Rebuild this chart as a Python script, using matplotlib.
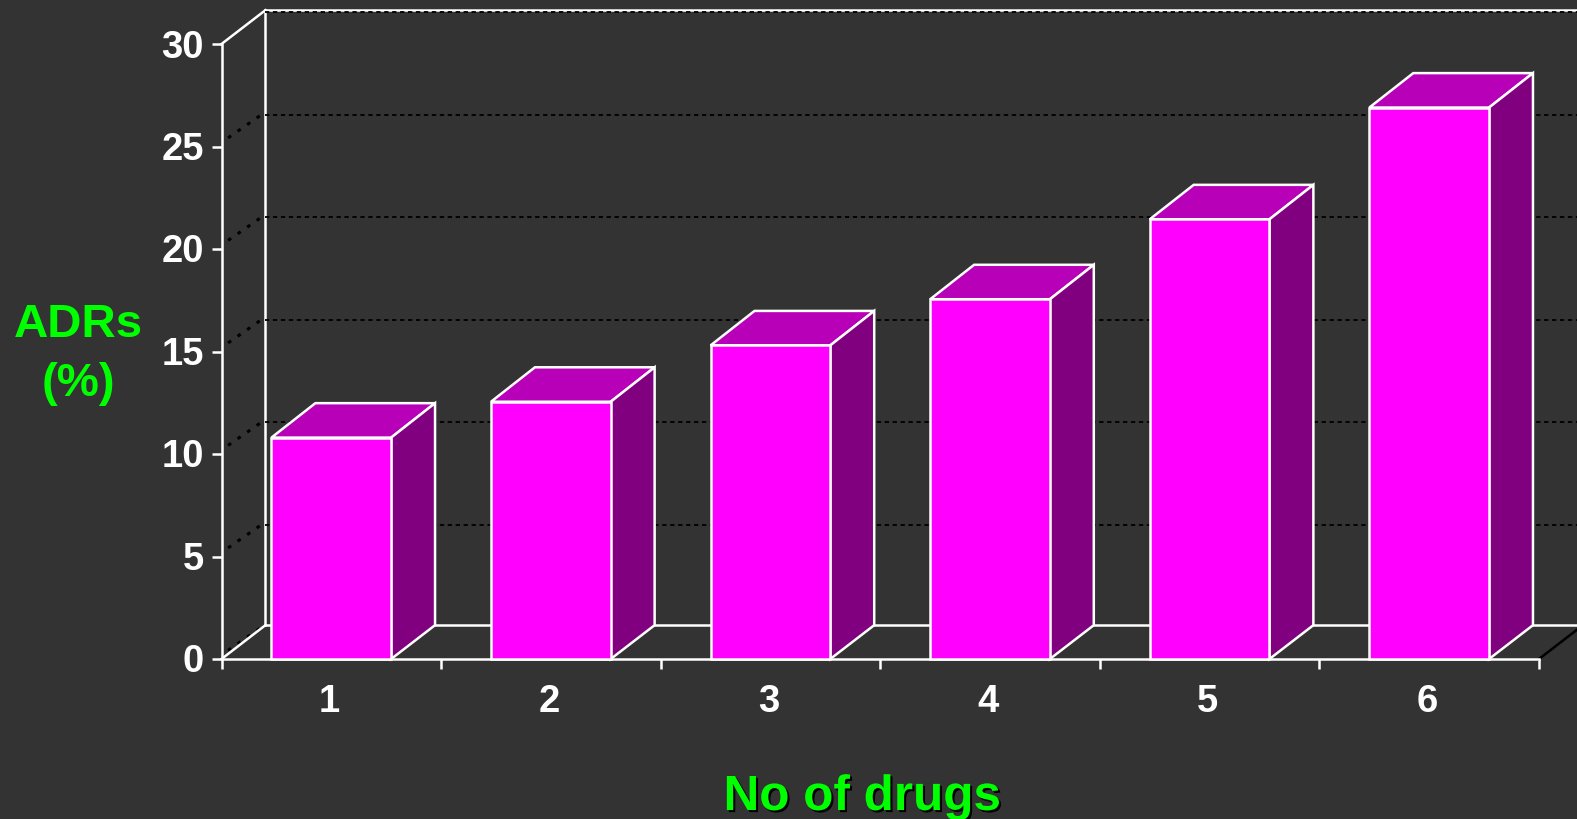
import matplotlib.pyplot as plt
import matplotlib.patheffects as pe
from matplotlib.patches import Polygon
from matplotlib.transforms import ScaledTranslation

drug_counts = [1, 2, 3, 4, 5, 6]
adr_percent = [10.8, 12.55, 15.3, 17.55, 21.45, 26.9]
y_ticks = [0, 5, 10, 15, 20, 25, 30]
x_edges = [0.5, 1.5, 2.5, 3.5, 4.5, 5.5, 6.5]

BG = '#333333'
FRONT = '#ff00ff'
TOP = '#b800b8'
SIDE = '#800080'
GREEN = '#00ff00'
WHITE = '#ffffff'
LW = 1.8

# depth of the fake 3d box, in data units
DX = 0.2
DY = 1.68
BOX_DY = 1.65
GRID_DY = 1.56
BAR_W = 0.545

W, H = 1577, 820

plt.rcParams['font.family'] = ['Liberation Sans', 'DejaVu Sans']
plt.rcParams['font.weight'] = 'bold'

fig = plt.figure(figsize=(W / 100, H / 100), dpi=100, facecolor=BG)
ax = fig.add_axes([221.5 / W, (H - 660) / H, (1539 - 221.5) / W, (660 - 45) / H])
ax.set_facecolor('none')
ax.set_xlim(x_edges[0], x_edges[-1])
ax.set_ylim(y_ticks[0], y_ticks[-1])

x0, x1 = x_edges[0], x_edges[-1]
y0, y1 = y_ticks[0], y_ticks[-1]

# dashed grid on back wall and dotted run along the side wall
for level in y_ticks:
    if level != y0:
        ax.plot([x0 + DX, x1 + DX], [level + GRID_DY] * 2, color='black', lw=1.3,
                ls=(0, (2.4, 2.0)), clip_on=False, zorder=3)
    if level != y1:
        ax.plot([x0 + 0.15 * DX, x0 + 0.95 * DX], [level + 0.25 * DY, level + GRID_DY + 0.05],
                color='black', lw=2.2, ls=(0, (1.2, 2.6)), clip_on=False, zorder=1)

# box outline
box_lines = [
    ([x0, x0 + DX], [y0, y0 + BOX_DY]),
    ([x0, x0 + DX], [y1, y1 + BOX_DY]),
    ([x0 + DX, x0 + DX], [y0 + BOX_DY, y1 + BOX_DY]),
    ([x0 + DX, x1 + DX], [y0 + BOX_DY, y0 + BOX_DY]),
    ([x0 + DX, x1 + DX], [y1 + BOX_DY, y1 + BOX_DY]),
]
for xs, ys in box_lines:
    ax.plot(xs, ys, color=WHITE, lw=LW, clip_on=False, zorder=2)
ax.plot([x1, x1 + DX], [y0, y0 + BOX_DY], color='black', lw=LW, clip_on=False, zorder=2)

# bars: front face from bar(), top and side faces follow its height
bars = ax.bar(drug_counts, adr_percent, width=BAR_W, color=FRONT, edgecolor=WHITE,
              linewidth=LW, clip_on=False, zorder=6)
for n, val in zip(drug_counts, adr_percent):
    left = n - BAR_W / 2
    right = n + BAR_W / 2
    top_face = [(left, val), (right, val), (right + DX, val + DY), (left + DX, val + DY)]
    side_face = [(right, 0), (right + DX, BOX_DY), (right + DX, val + DY), (right, val)]
    ax.add_patch(Polygon(top_face, closed=True, facecolor=TOP, edgecolor=WHITE, lw=LW,
                         clip_on=False, zorder=5))
    ax.add_patch(Polygon(side_face, closed=True, facecolor=SIDE, edgecolor=WHITE, lw=LW,
                         clip_on=False, zorder=5))

for side in ['top', 'right']:
    ax.spines[side].set_visible(False)
for side in ['left', 'bottom']:
    ax.spines[side].set_color(WHITE)
    ax.spines[side].set_linewidth(LW)
    ax.spines[side].set_zorder(4)

ax.set_yticks(y_ticks)
ax.set_xticks(x_edges)
ax.set_xticklabels([])
ax.set_xticks(drug_counts, minor=True)
ax.set_xticklabels([str(n) for n in drug_counts], minor=True)
ax.tick_params(axis='y', direction='out', length=7.2, width=LW, color=WHITE, labelcolor=WHITE,
               labelsize=27.5, pad=5.5)
ax.tick_params(axis='x', which='major', direction='out', length=7.2, width=LW, color=WHITE)
ax.tick_params(axis='x', which='minor', length=0, labelcolor=WHITE, labelsize=27.5, pad=17.5)

# nudge tick labels: x slightly left of the bar centres, y slightly up
shift_x = ScaledTranslation(-2 / 100, 0, fig.dpi_scale_trans)
for label in ax.get_xticklabels(minor=True):
    label.set_transform(label.get_transform() + shift_x)
shift_y = ScaledTranslation(0, 1.5 / 100, fig.dpi_scale_trans)
for label in ax.get_yticklabels():
    label.set_transform(label.get_transform() + shift_y)

fig.text(78 / W, 1 - 354.5 / H, 'ADRs\n(%)', color=GREEN, fontsize=34.2, fontweight='bold',
         ha='center', va='center', linespacing=1.42)
fig.text(862 / W, 1 - 811 / H, 'No of drugs', color=GREEN, fontsize=35.6, fontweight='bold',
         ha='center', va='baseline',
         path_effects=[pe.withSimplePatchShadow(offset=(1.5, -1.5), shadow_rgbFace='black', alpha=1.0)])

plt.savefig('out.png', dpi=100, facecolor=BG)
